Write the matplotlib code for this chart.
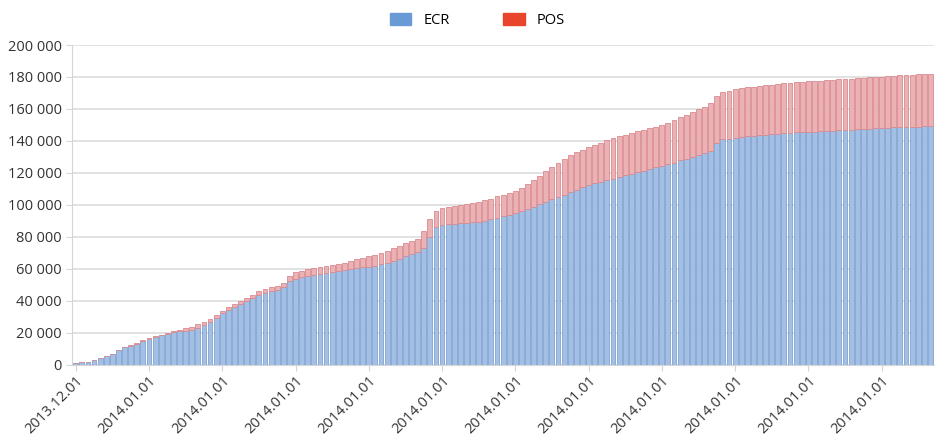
import numpy as np
import matplotlib.pyplot as plt
from matplotlib.patches import Patch
from matplotlib.ticker import FuncFormatter

plt.rcParams['font.family'] = ['Open Sans', 'DejaVu Sans']

# 累计值（千），每根柱一个值
total = [1.0, 1.5, 2.0, 3.0, 4.0, 5.5, 7.0, 9.5, 11.5, 12.5,
         13.5, 15.5, 17.0, 18.0, 19.0, 20.0, 21.0, 22.0, 23.0, 24.0,
         25.5, 27.0, 28.5, 31.0, 34.0, 36.0, 38.0, 40.0, 42.0, 44.0,
         46.0, 47.5, 48.5, 49.5, 51.0, 55.5, 58.0, 59.0, 59.8, 60.5,
         61.2, 61.8, 62.5, 63.2, 64.0, 65.0, 66.0, 67.0, 68.0, 69.0,
         70.0, 71.5, 73.0, 74.5, 76.0, 77.5, 79.0, 84.0, 91.0, 96.5,
         98.0, 99.0, 99.5, 100.0, 100.8, 101.5, 102.0, 102.8, 104.0, 105.5,
         106.5, 107.5, 109.0, 110.5, 113.0, 115.5, 118.0, 121.0, 123.5, 126.0,
         128.5, 131.0, 133.0, 134.5, 136.0, 137.5, 139.0, 140.5, 142.0, 143.0,
         144.0, 145.0, 146.0, 147.0, 148.0, 149.0, 150.0, 151.5, 153.0, 155.0,
         156.5, 158.0, 160.0, 161.5, 163.5, 168.0, 170.5, 171.5, 172.5, 173.0,
         173.5, 174.0, 174.5, 175.0, 175.3, 175.6, 176.0, 176.3, 176.6, 177.0,
         177.2, 177.5, 177.8, 178.0, 178.3, 178.5, 178.8, 179.0, 179.2, 179.5,
         179.7, 180.0, 180.2, 180.5, 180.7, 181.0, 181.2, 181.4, 181.6, 181.8,
         182.0]
ecr = [1.0, 1.5, 2.0, 3.0, 4.0, 5.5, 7.0, 9.5, 11.0, 12.0,
       13.0, 15.0, 16.5, 17.5, 18.5, 19.5, 20.5, 21.0, 21.5, 22.0,
       23.0, 25.0, 27.0, 29.5, 32.5, 34.5, 36.5, 38.0, 40.0, 42.0,
       43.5, 45.0, 46.0, 47.0, 48.5, 52.5, 54.0, 54.8, 55.5, 56.2,
       56.8, 57.4, 58.0, 58.6, 59.2, 59.8, 60.5, 61.0, 61.5, 62.0,
       62.8, 63.8, 65.0, 66.5, 68.0, 69.5, 70.5, 73.0, 80.0, 86.5,
       87.5, 88.0, 88.3, 88.6, 89.0, 89.3, 89.6, 90.0, 91.0, 92.0,
       93.0, 94.0, 95.0, 96.0, 97.5, 99.0, 100.5, 102.0, 103.5, 105.0,
       106.5, 108.0, 109.5, 111.0, 112.5, 113.5, 114.5, 115.5, 116.5, 117.5,
       118.5, 119.5, 120.5, 121.5, 122.5, 123.5, 124.5, 125.5, 126.5, 128.0,
       129.0, 130.0, 131.5, 132.5, 134.0, 139.0, 141.0, 141.5, 142.0, 142.5,
       143.0, 143.3, 143.6, 144.0, 144.3, 144.6, 144.9, 145.1, 145.3, 145.5,
       145.7, 145.9, 146.1, 146.3, 146.5, 146.7, 146.9, 147.1, 147.3, 147.5,
       147.7, 147.9, 148.1, 148.3, 148.5, 148.7, 148.8, 148.9, 149.0, 149.1,
       149.2]
tick_labels = ['2013.12.01'] + ['2014.01.01'] * 11

ecr = np.array(ecr) * 1000
pos = np.array(total) * 1000 - ecr
x = np.arange(len(ecr))

fig = plt.figure(figsize=(9.36, 4.37), dpi=100)
ax = fig.add_axes([0.077, 0.165, 0.921, 0.732])

ax.bar(x, ecr, width=0.8, color='#a3c0e4', edgecolor='#7fa2d3', linewidth=0.6, zorder=2)
ax.bar(x, pos, bottom=ecr, width=0.8, color='#eab2b4', edgecolor='#da8a8f', linewidth=0.6, zorder=2)

ax.set_xlim(-0.6, len(x) - 0.4)
ax.set_ylim(0, 200000)
ax.set_yticks(np.arange(0, 200001, 20000))
ax.yaxis.set_major_formatter(FuncFormatter(lambda v, p: '{:,}'.format(int(v)).replace(',', ' ')))
ax.grid(axis='y', color='#dddddd', linewidth=1.2, zorder=0)

ax.set_xticks(np.arange(0, len(x), 12))
ax.set_xticklabels(tick_labels, rotation=45, ha='right', rotation_mode='anchor')

for s in ['top', 'right']:
    ax.spines[s].set_visible(False)
ax.spines['left'].set_color('#d5d5d5')
ax.spines['bottom'].set_color('#d5d5d5')
ax.tick_params(axis='y', length=4, color='#d5d5d5', labelsize=10.5, labelcolor='#333333')
ax.tick_params(axis='x', length=4, pad=2, color='#d5d5d5', labelsize=10.5, labelcolor='#333333')

handles = [Patch(color='#6a9ad6', label='ECR'), Patch(color='#e8452c', label='POS')]
fig.legend(handles=handles, loc='upper center', bbox_to_anchor=(0.51, 1.0), ncol=2,
           frameon=False, fontsize=10.5, handlelength=1.5, handleheight=0.8,
           handletextpad=0.8, columnspacing=3.7)

plt.savefig('out.png')
